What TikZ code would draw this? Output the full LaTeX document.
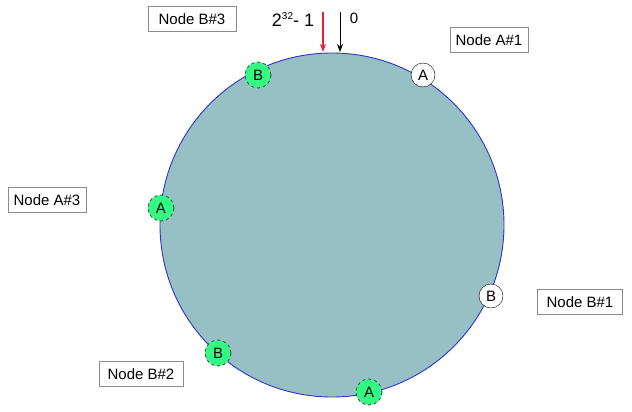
\documentclass[tikz,border=0pt]{standalone}
\usepackage{fontspec}
\setmainfont{Liberation Sans}
\usetikzlibrary{arrows.meta}
\definecolor{ringfill}{RGB}{150,192,195}
\definecolor{ringgreen}{RGB}{51,250,130}
\definecolor{ringblue}{RGB}{50,50,200}
\definecolor{arrred}{RGB}{235,30,50}
\begin{document}
\begin{tikzpicture}[x=1pt,y=-1pt,
  lbl/.style={draw=black!45,fill=white,font=\fontsize{15}{17}\selectfont,minimum width=78pt,minimum height=25pt,inner sep=2pt},
  wnode/.style={circle,draw=black,fill=white,minimum size=24pt,inner sep=0pt,font=\fontsize{15}{17}\selectfont},
  gnode/.style={circle,draw=black!75,dashed,line width=0.8pt,fill=ringgreen,minimum size=26pt,inner sep=0pt,font=\fontsize{15}{17}\selectfont},
  >={Stealth[length=8pt,width=6pt]}]
\useasboundingbox (0,0) rectangle (632,412);
\node[circle,draw=ringblue,line width=0.9pt,fill=ringfill,minimum size=344pt,inner sep=0pt] (ring) at (332,225) {};
\node[wnode] (a1) at (423,75) {A};
\node[wnode] (b1) at (491,296) {B};
\node[gnode] (b3) at (258,75) {B};
\node[gnode] (a3) at (161,208) {A};
\node[gnode] (b2) at (218,353) {B};
\node[gnode] (a2) at (369,392) {A};
\node[lbl,minimum width=88pt] (lb3) at (192,19) {Node B\#3};
\node[lbl] (la1) at (489,40) {Node A\#1};
\node[lbl] (la3) at (47,200) {Node A\#3};
\node[lbl,minimum width=85pt] (lb1) at (580,302) {Node B\#1};
\node[lbl,minimum width=84pt] (lb2) at (141,374) {Node B\#2};
\node[font=\fontsize{18}{20}\selectfont,anchor=base] (max) at (293,27) {2\raisebox{7pt}{\fontsize{10}{10}\selectfont 32}- 1};
\node[font=\fontsize{15}{17}\selectfont] (zero) at (354,18) {0};
\coordinate (rt) at (323,12);
\coordinate (rb) at (323,52);
\coordinate (kt) at (340,12);
\coordinate (kb) at (340,52);
\draw[->,draw=arrred,fill=arrred,line width=1.1pt] (rt) -- (rb);
\draw[->,black,line width=0.9pt] (kt) -- (kb);
\end{tikzpicture}
\end{document}
